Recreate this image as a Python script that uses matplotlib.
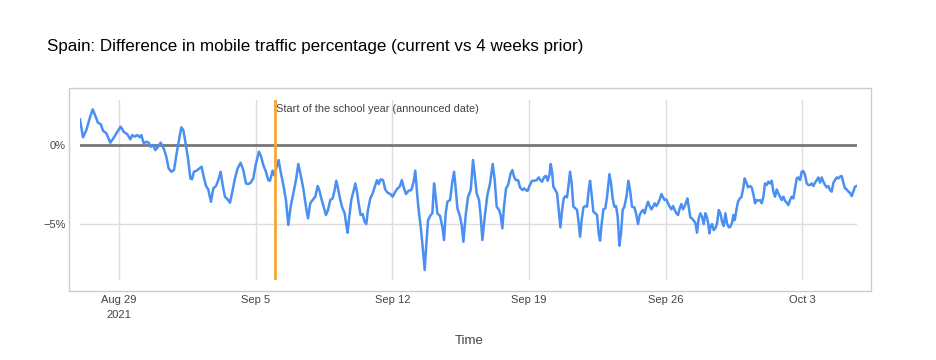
import datetime as dt
import numpy as np
import matplotlib
matplotlib.use("Agg")
import matplotlib.pyplot as plt
from matplotlib.patches import Rectangle

plt.rcParams['font.family'] = ['Liberation Sans', 'DejaVu Sans']

# data: hours since 2021-08-27 00:00, difference in %
start = dt.datetime(2021, 8, 27)
hours = [
    0, 3.7, 7.8, 11.9, 15.6, 18.9, 22.1, 25.4, 28.3, 32.4, 37.3, 41.8, 45.9, 50.0,
    53.7, 58.2, 61.9, 64.3, 67.2, 70.5, 73.4, 75.4, 78.3, 81.6, 84.4, 86.9, 89.8,
    92.6, 95.9, 99.2, 103.3, 106.1, 109.0, 112.3, 115.6, 118.8, 121.7, 124.6, 127.0,
    129.5, 132.8, 135.7, 137.7, 140.1, 143.4, 146.7, 149.5, 151.6, 154.9, 157.7,
    161.0, 163.9, 167.2, 170.0, 172.9, 175.4, 178.2, 181.5, 184.4, 187.7, 190.5,
    193.8, 197.5, 200.8, 204.0, 206.9, 209.8, 213.1, 215.9, 220.0, 222.5, 225.4,
    228.6, 231.5, 233.6, 236.8, 238.5, 240.9, 244.2, 246.7, 250.0, 253.2, 256.1,
    259.0, 262.2, 265.5, 268.4, 271.3, 274.5, 277.8, 280.3, 283.1, 286.0, 289.3,
    292.2, 294.2, 296.7, 299.5, 302.4, 304.9, 307.7, 310.6, 313.1, 315.1, 317.2,
    320.0, 322.1, 325.4, 327.4, 329.0, 331.1, 333.5, 336.4, 338.5, 340.5, 342.6,
    345.0, 347.5, 349.9, 352.0, 354.0, 356.9, 359.8, 362.2, 365.1, 367.2, 369.6,
    372.5, 375.3, 378.2, 381.5, 384.4, 387.6, 390.5, 393.0, 395.8, 397.9, 400.8,
    404.0, 407.3, 410.2, 412.2, 414.8, 416.8, 418.9, 420.9, 423.8, 425.9, 427.9,
    431.2, 433.2, 435.3, 437.3, 439.4, 442.7, 445.5, 447.6, 449.6, 451.7, 455.0,
    457.8, 459.9, 461.9, 464.0, 466.8, 469.3, 471.4, 474.2, 477.1, 480.4, 483.2,
    485.3, 487.7, 490.6, 492.7, 494.7, 497.6, 500.9, 504.1, 507.4, 509.9, 512.3,
    515.2, 517.2, 519.3, 521.3, 523.8, 526.3, 529.5, 531.6, 533.6, 535.7, 538.6,
    541.0, 543.9, 545.9, 549.2, 550.4, 552.5, 555.8, 558.6, 561.5, 564.0, 566.0,
    568.1, 570.9, 573.0, 575.0, 577.1, 578.7, 580.4, 582.0, 584.5, 586.5, 588.6,
    590.6, 592.7, 594.7, 596.8, 598.8, 600.9, 602.5, 604.5, 606.6, 609.1, 611.1,
    613.2, 614.8, 616.8, 618.9, 621.3, 623.4, 625.4, 627.1, 629.1, 631.2, 633.6,
    635.7, 637.7, 639.4, 641.4, 643.5, 645.9, 648.0, 650.9, 652.9, 654.9, 657.0,
    659.0, 661.1, 663.1, 665.2, 667.2, 669.3, 672.2, 674.2, 676.3, 678.7, 681.6,
    683.6, 686.1, 688.1, 690.2, 692.2, 694.3, 696.3, 698.4, 700.4, 702.5, 704.5,
    706.6, 708.6, 710.7, 712.7, 714.8, 716.8, 718.9, 720.9, 723.0, 725.0, 727.1,
    729.1, 731.2, 733.2, 735.3, 737.3, 739.4, 741.4, 743.5, 745.5, 746.8, 748.4,
    750.4, 752.5, 754.5, 756.6, 758.6, 760.7, 762.7, 764.8, 766.8, 768.9, 770.9,
    772.2, 773.8, 775.4, 777.1, 779.1, 781.2, 783.2, 785.3, 787.3, 789.4, 791.4,
    793.5, 795.5, 797.6, 799.6, 801.7, 803.3, 805.0, 807.0, 809.0, 811.1, 813.1,
    815.2, 817.2, 819.3, 821.3, 823.8, 825.8, 827.9, 829.9, 832.0, 834.0, 836.1,
    838.1, 840.2, 842.2, 844.3, 846.3, 848.4, 850.4, 852.5, 854.5, 856.6, 858.6,
    860.7, 862.7, 864.8, 866.8, 868.9, 870.9, 873.0, 875.0, 877.1, 879.1, 881.2,
    883.2, 885.3, 887.3, 889.4, 891.4, 893.5, 895.5, 897.6, 899.6, 901.7, 903.7,
    905.8, 907.8, 909.9, 911.9, 914.0, 916.0, 918.1, 920.1, 922.2, 924.2, 926.3,
    928.3, 930.3, 932.4, 934.4, 936.5, 938.5, 940.6, 942.6, 944.7, 946.7, 948.8,
    950.8, 952.9, 954.9,
]
diff_pct = [
    1.62, 0.49, 0.95, 1.69, 2.26, 1.84, 1.41, 1.33, 0.91, 0.74, 0.15, 0.49, 0.84, 1.16,
    0.84, 0.68, 0.36, 0.63, 0.53, 0.63, 0.49, 0.63, 0.11, 0.21, 0.15, -0.11, 0.00,
    -0.32, -0.11, 0.15, -0.27, -0.74, -1.48, -1.69, -1.58, -0.53, 0.32, 1.12, 0.95,
    0.21, -0.84, -2.11, -2.17, -1.69, -1.62, -1.48, -1.37, -1.90, -2.59, -2.81,
    -3.59, -2.74, -2.59, -2.22, -1.69, -2.53, -3.27, -3.44, -3.65, -2.85, -2.11,
    -1.48, -1.12, -1.58, -2.43, -2.47, -2.38, -2.11, -1.27, -0.42, -0.70, -1.27,
    -1.69, -2.22, -2.26, -1.62, -1.90, -1.54, -0.95, -1.69, -2.53, -3.48, -5.06,
    -3.90, -3.06, -2.22, -1.20, -1.90, -2.74, -3.90, -4.64, -3.69, -3.48, -3.27,
    -2.59, -2.85, -3.38, -3.90, -4.43, -4.11, -3.48, -3.38, -2.85, -2.26, -2.74,
    -3.48, -3.90, -4.32, -5.06, -5.55, -4.54, -3.48, -2.89, -2.43, -2.95, -3.69,
    -4.43, -4.37, -4.85, -5.00, -4.11, -3.38, -3.06, -2.68, -2.22, -2.47, -2.17,
    -2.22, -2.81, -3.02, -3.10, -3.27, -2.95, -2.74, -2.64, -2.22, -2.68, -3.10,
    -2.89, -2.85, -2.32, -1.62, -3.27, -4.32, -5.17, -6.22, -7.91, -6.22, -4.75,
    -4.43, -4.32, -2.43, -3.27, -4.32, -4.49, -5.17, -6.01, -4.32, -3.59, -3.48,
    -2.32, -1.69, -2.74, -4.01, -4.43, -5.06, -6.12, -4.43, -3.27, -2.85, -0.95,
    -1.90, -3.06, -3.48, -4.54, -6.01, -4.54, -3.16, -2.43, -1.20, -2.22, -3.90,
    -4.11, -4.43, -5.27, -3.90, -2.74, -2.53, -1.79, -1.58, -2.00, -2.22, -2.22,
    -2.68, -2.85, -2.74, -2.89, -2.89, -2.59, -2.26, -2.26, -2.22, -2.05, -2.22,
    -2.32, -2.00, -1.96, -2.26, -1.90, -1.20, -1.69, -2.64, -2.85, -3.06, -4.11,
    -5.21, -4.11, -3.38, -3.23, -3.31, -2.43, -1.69, -2.43, -3.90, -4.01, -4.11,
    -4.96, -5.80, -4.75, -3.95, -3.86, -3.90, -2.85, -2.26, -3.16, -4.22, -4.32,
    -4.43, -5.59, -6.05, -4.96, -4.07, -4.01, -3.27, -1.84, -2.43, -3.38, -3.90,
    -3.86, -4.54, -6.37, -5.59, -4.11, -3.90, -3.16, -2.26, -2.85, -3.90, -3.95,
    -4.32, -5.00, -4.43, -4.22, -4.11, -4.32, -3.90, -3.59, -3.86, -4.07, -3.90,
    -3.69, -3.86, -3.69, -3.44, -3.10, -3.31, -3.48, -3.44, -3.69, -3.90, -4.07,
    -3.86, -4.11, -4.32, -4.43, -4.01, -3.73, -4.07, -3.86, -3.59, -3.38, -3.90,
    -4.58, -4.64, -4.79, -4.92, -5.55, -4.64, -4.32, -4.54, -5.00, -4.32, -4.58,
    -4.92, -5.59, -5.13, -5.00, -5.38, -5.27, -4.96, -4.11, -4.32, -4.85, -5.13,
    -4.32, -4.96, -5.21, -5.17, -4.92, -4.43, -4.75, -4.11, -3.59, -3.38, -3.31,
    -2.81, -2.11, -2.38, -2.68, -2.59, -2.68, -3.10, -3.69, -3.48, -3.52, -3.48,
    -3.69, -3.27, -2.43, -2.53, -2.32, -2.43, -2.26, -2.95, -3.27, -2.81, -3.06,
    -3.27, -3.48, -3.27, -3.52, -3.65, -3.80, -3.48, -3.27, -3.38, -2.74, -2.11,
    -2.05, -2.22, -1.69, -1.65, -1.90, -2.43, -2.53, -2.53, -2.43, -2.59, -2.38,
    -2.22, -2.05, -2.38, -2.05, -2.32, -2.53, -2.68, -2.59, -2.85, -2.95, -2.38,
    -2.22, -2.05, -2.11, -2.00, -1.96, -2.38, -2.74, -2.81, -2.95, -3.02, -3.23,
    -2.95, -2.64, -2.59,
]
week_ticks = ['2021-08-29', '2021-09-05', '2021-09-12', '2021-09-19', '2021-09-26', '2021-10-03']
tick_labels = ['Aug 29\n2021', 'Sep 5', 'Sep 12', 'Sep 19', 'Sep 26', 'Oct 3']
school_start = dt.datetime(2021, 9, 6)
annotation = 'Start of the school year (announced date)'

times = [start + dt.timedelta(hours=h) for h in hours]
values = np.array(diff_pct)

W, H = 937, 360
fig = plt.figure(figsize=(W / 100, H / 100), dpi=100)
ax = fig.add_axes([80 / W, 1 - 280 / H, 777 / W, 180 / H])

# outer chart frame
fig.patches.append(Rectangle((69 / W, 1 - 291 / H), 802 / W, 203 / H,
                             transform=fig.transFigure, fill=False,
                             edgecolor='#cccccc', linewidth=1))

for s in ax.spines.values():
    s.set_visible(False)

ax.set_xlim(start, start + dt.timedelta(hours=955.3))
ax.set_ylim(-8.54, 2.85)

tick_dates = [dt.datetime.strptime(d, '%Y-%m-%d') for d in week_ticks]
ax.set_xticks(tick_dates)
ax.set_xticklabels(tick_labels, linespacing=1.6)
ax.set_yticks([0, -5])
ax.set_yticklabels(['0%', '\u22125%'])
ax.tick_params(length=0, colors='#444444', labelsize=8)
ax.tick_params(axis='x', pad=11)
ax.tick_params(axis='y', pad=10)

for d in tick_dates:
    ax.axvline(d, color='#dddddd', linewidth=1, zorder=0)
ax.axhline(-5, color='#dddddd', linewidth=1, zorder=0)
ax.axhline(0, color='#777777', linewidth=2, zorder=1)

ax.plot(times, values, color='#4a8ff2', linewidth=1.8, zorder=3)

ax.axvline(school_start, color='#f4a734', linewidth=2, zorder=4)
ax.text(school_start + dt.timedelta(hours=1), 2.3, annotation, fontsize=7.9,
        color='#444444', va='center', ha='left')

fig.text(47 / W, 1 - 46 / H,
         'Spain: Difference in mobile traffic percentage (current vs 4 weeks prior)',
         fontsize=12.25, color='#000000', va='center', ha='left')
fig.text(469 / W, 1 - 341 / H, 'Time', fontsize=9.5, color='#444444',
         va='center', ha='center')

fig.savefig('out.png', dpi=100)
